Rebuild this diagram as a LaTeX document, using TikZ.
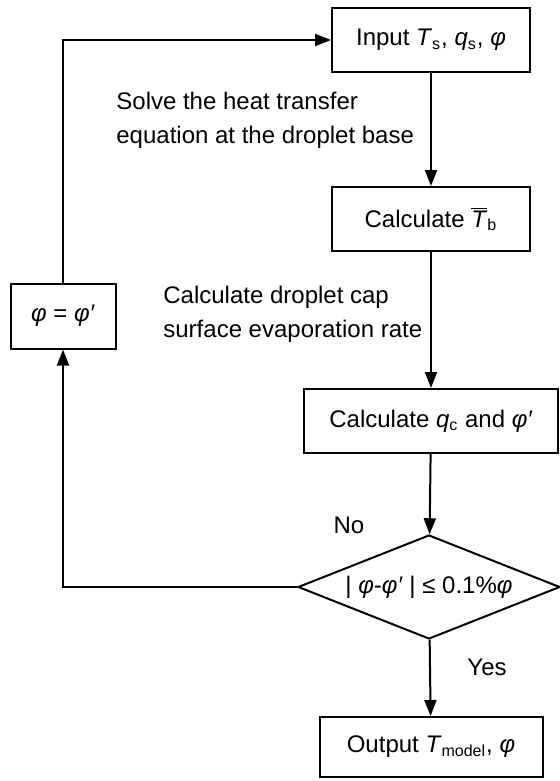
\documentclass[tikz,border=0pt]{standalone}
\usepackage{fontspec}
\setmainfont{Liberation Sans}
\usetikzlibrary{arrows.meta, shapes.geometric}
\tikzset{box/.style = {shape = rectangle, draw, line width = 1pt, inner sep = 0pt, minimum height = 32pt}}
\tikzset{decision/.style = {shape = diamond, draw, line width = 1pt, aspect = 2.5, inner sep = 0pt, minimum width = 131pt, minimum height = 52pt}}
\tikzset{flow/.style = {line width = 1pt, -{Triangle[length = 8pt, width = 6pt]}}}
\tikzset{note/.style = {align = left, inner sep = 0pt}}
\newcommand{\vphi}{\textit{φ}}
\newcommand{\vphip}{\textit{φ′}}
\newcommand{\barT}{$\overline{\mbox{\textit{T}}}$}

\begin{document}
\begin{tikzpicture}[x = 0.5pt, y = -0.5pt, font = \fontsize{12}{17}\selectfont]
	\useasboundingbox (0, 0) rectangle (559, 781);

	\node[box, minimum width = 99pt] (input) at (431, 40) {Input \textit{T}\textsubscript{s}, \textit{q}\textsubscript{s}, \vphi};
	\node[box, minimum width = 99pt] (tbar) at (431, 219) {Calculate \barT\textsubscript{b}};
	\node[box, minimum width = 127pt] (qcalc) at (431, 421) {Calculate \textit{q}\textsubscript{c} and \vphip};
	\node[decision] (check) at (429, 587) {| \vphi-\vphip{} | ≤ 0.1\%\vphi};
	\node[box, minimum width = 111.5pt, minimum height = 30pt] (output) at (431, 747) {Output \textit{T}\textsubscript{model}, \vphi};
	\node[box, minimum width = 52.5pt, minimum height = 32.5pt] (update) at (63, 316) {\vphi{} = \vphip};

	\node[note, anchor = west] (solvetxt) at (116, 120) {Solve the heat transfer\\equation at the droplet base};
	\node[note, anchor = west] (evaptxt) at (163, 314) {Calculate droplet cap\\surface evaporation rate};
	\node[note] (no) at (349, 525) {No};
	\node[note] (yes) at (487, 667) {Yes};

	\draw[flow] (input) -- (tbar);
	\draw[flow] (tbar) -- (qcalc);
	\draw[flow] (qcalc) -- (check);
	\draw[flow] (check) -- (output);
	\draw[flow] (check.west) -| (update.south);
	\draw[flow] (update.north) |- (input.west);
\end{tikzpicture}
\end{document}
